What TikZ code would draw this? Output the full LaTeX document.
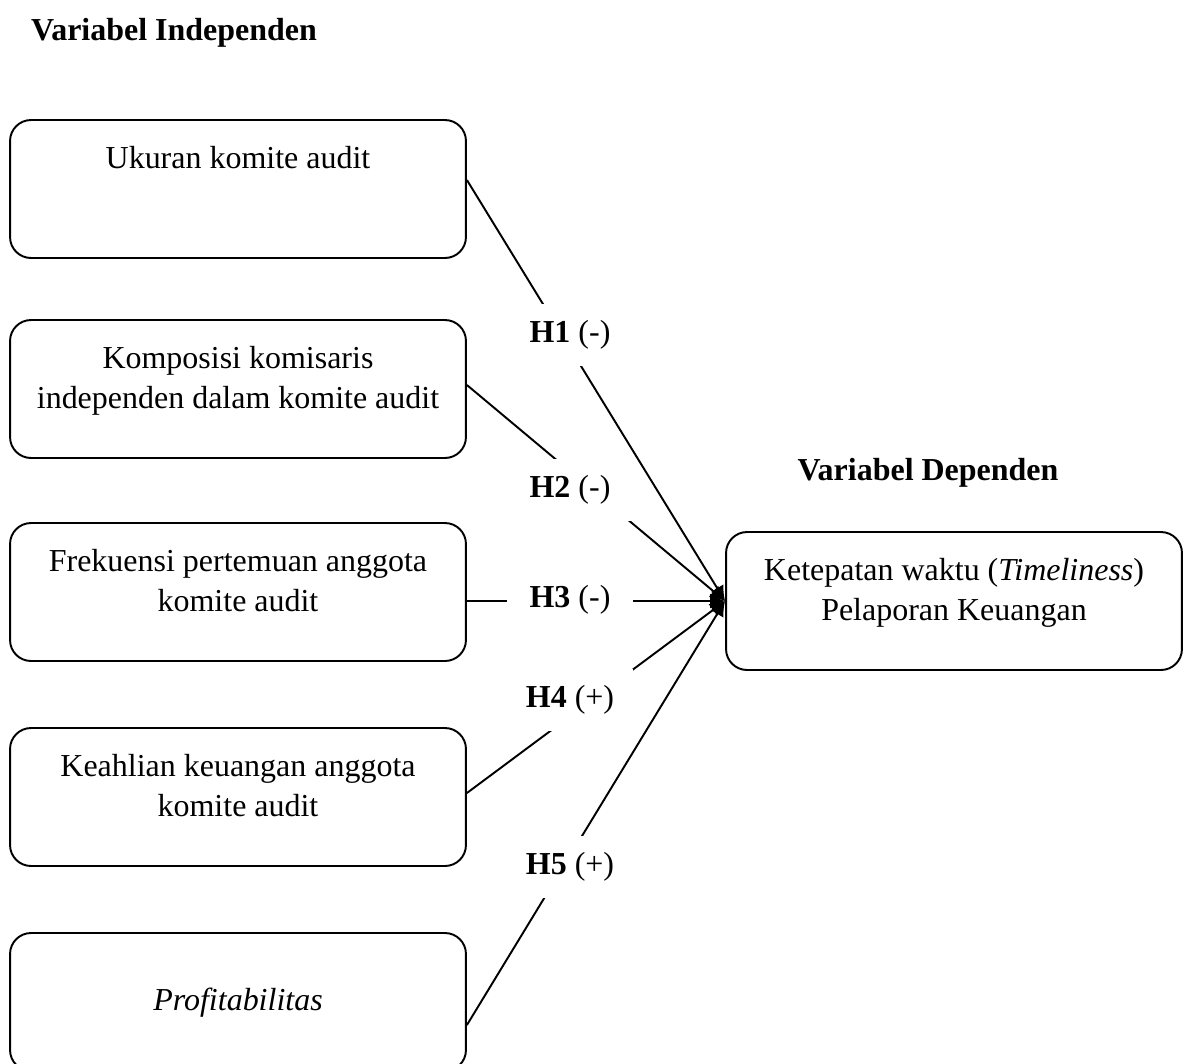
\documentclass[tikz,border=0pt]{standalone}
\usepackage{fontspec}
\setmainfont{Liberation Serif}
\usepackage{tikz}
\usetikzlibrary{arrows.meta, positioning, calc}

\begin{document}
\begin{tikzpicture}[x=0.02cm,y=-0.02cm,
		font=\fontsize{18.2}{22.8}\selectfont,
		varbox/.style={draw, line width=1.1pt, rounded corners=0.42cm, align=center,
			minimum width=9.12cm, minimum height=2.76cm, text depth=0.45cm},
		hyp/.style={fill=white, minimum width=2.54cm, minimum height=1.24cm, inner sep=0pt},
		link/.style={line width=1.1pt, -{Latex[length=0.3cm,width=0.3cm]}}]
	\useasboundingbox (0,0) rectangle (1184,1063);
	% judul
	\node[font=\fontsize{18.2}{22.8}\selectfont\bfseries] (jdlind) at (174,33) {Variabel Independen};
	\node[font=\fontsize{18.2}{22.8}\selectfont\bfseries] (jdldep) at (928,473) {Variabel Dependen};
	% variabel independen
	\node[varbox] (ukuran) at (238,189) {Ukuran komite audit\\ \mbox{}};
	\node[varbox] (komposisi) at (238,389) {Komposisi komisaris\\independen dalam komite audit};
	\node[varbox] (frekuensi) at (238,592) {Frekuensi pertemuan anggota\\komite audit};
	\node[varbox] (keahlian) at (238,797) {Keahlian keuangan anggota\\komite audit};
	\node[varbox, text depth=0.1cm] (profit) at (238,1002) {\itshape Profitabilitas};
	% variabel dependen
	\node[varbox] (timeliness) at (954,601) {Ketepatan waktu (\textit{Timeliness})\\Pelaporan Keuangan};
	% hubungan
	\draw[link] ([yshift=0.18cm]ukuran.east) -- (timeliness.west);
	\draw[link] ([yshift=0.08cm]komposisi.east) -- (timeliness.west);
	\draw[link] (frekuensi.east |- timeliness.west) -- (timeliness.west);
	\draw[link] ([yshift=0.08cm]keahlian.east) -- (timeliness.west);
	\draw[link] ([yshift=-0.46cm]profit.east) -- (timeliness.west);
	% hipotesis
	\node[hyp] (h1) at (570,335) {\textbf{H1} (-)};
	\node[hyp] (h2) at (570,490) {\textbf{H2} (-)};
	\node[hyp] (h3) at (570,600) {\textbf{H3} (-)};
	\node[hyp] (h4) at (570,700) {\textbf{H4} (+)};
	\node[hyp] (h5) at (570,867) {\textbf{H5} (+)};
\end{tikzpicture}
\end{document}
